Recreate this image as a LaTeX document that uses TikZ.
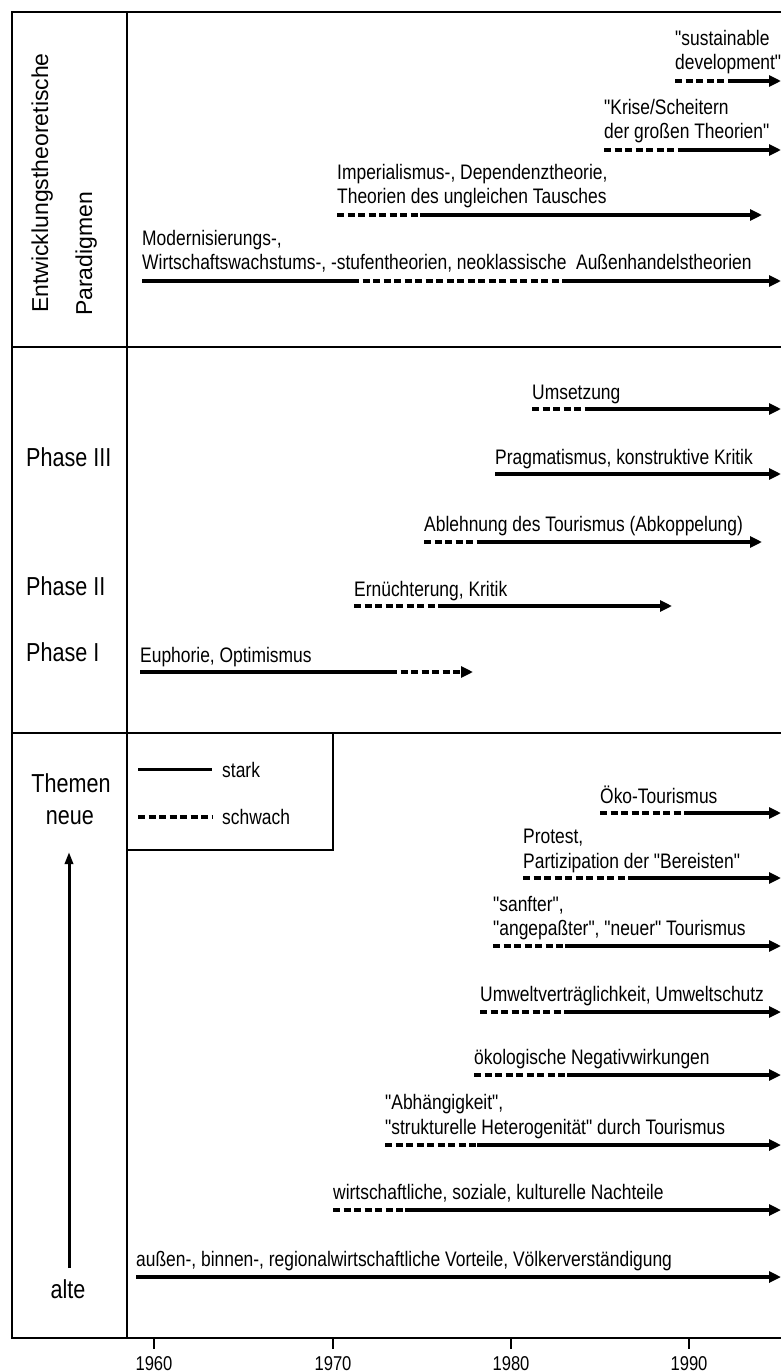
\documentclass[tikz,border=0pt]{standalone}
\usepackage{fontspec}
\setmainfont{Liberation Sans}
\newfontfamily\narrowfont[FakeStretch=0.83]{Liberation Sans}
\newfontfamily\plainfont{Liberation Sans}
\usetikzlibrary{arrows.meta}
\tikzset{
  frame/.style={line width=2.5pt, line join=miter},
  strongseg/.style={line width=4.5pt},
  weakseg/.style={line width=4.2pt, dash pattern=on 7pt off 3.5pt},
  headed/.style={-{Triangle[length=12pt,width=11pt]}},
  lbl/.style={font=\narrowfont\fontsize{21}{24.5}\selectfont, inner sep=0pt, anchor=base west, align=left},
  biglbl/.style={font=\narrowfont\fontsize{26}{30}\selectfont, inner sep=0pt, anchor=base},
  vertlbl/.style={font=\plainfont\fontsize{23}{28}\selectfont, inner sep=0pt, anchor=base west, rotate=90},
  yearlbl/.style={font=\narrowfont\fontsize{20}{23}\selectfont, inner sep=0pt, anchor=base},
}
\begin{document}
\begin{tikzpicture}[x=1pt,y=-1pt]
\useasboundingbox (0,0) rectangle (781,1372);
\fill[white] (0,0) rectangle (781,1372);

% frame and sections
\draw[frame] (781,12) -- (12,12) -- (12,1338) -- (781,1338);
\draw[frame] (127,12) -- (127,1338);
\draw[frame] (12,347) -- (781,347);
\draw[frame] (12,733) -- (781,733);

% axis ticks and years
\foreach \xx/\yy in {154/1960,333/1970,511/1980,689/1990}{
  \draw[line width=2pt] (\xx,1338) -- (\xx,1349);
  \node[yearlbl] (y\yy) at (\xx,1370) {\yy};
}

% left column labels
\node[vertlbl] (ent) at (48,313) {Entwicklungstheoretische};
\node[vertlbl] (par) at (92,316) {Paradigmen};
\node[biglbl, anchor=base west] (ph3) at (26,466) {Phase III};
\node[biglbl, anchor=base west] (ph2) at (26,595) {Phase II};
\node[biglbl, anchor=base west] (ph1) at (26,661) {Phase I};
\node[biglbl] (them) at (71,792) {Themen};
\node[biglbl] (neue) at (70,824) {neue};
\node[biglbl] (alte) at (68,1298) {alte};
\coordinate (upS) at (69,1268);
\coordinate (upE) at (69,852);
\draw[line width=3pt, -{Triangle[length=12pt,width=8pt]}] (upS) -- (upE);

% legend
\draw[frame] (127,850) -- (333,850) -- (333,733);
\draw[line width=3pt] (138,769) -- (212,769);
\draw[line width=3.5pt, dash pattern=on 7pt off 3.5pt] (138,817) -- (212,817);
\node[lbl] (lgs) at (222,777) {stark};
\node[lbl] (lgw) at (222,824) {schwach};

% ---------- Paradigmen ----------
\node[lbl] (sd) at (675,70) {"sustainable\\development"};
\draw[weakseg] (675,81) -- (728,81);
\draw[strongseg, headed] (728,81) -- (781,81);

\node[lbl] (kr) at (604,139) {"Krise/Scheitern\\der großen Theorien"};
\draw[weakseg] (604,150) -- (683,150);
\draw[strongseg, headed] (683,150) -- (781,150);

\node[lbl] (imp) at (337,204) {Imperialismus-, Dependenztheorie,\\Theorien des ungleichen Tausches};
\draw[weakseg] (337,215) -- (420,215);
\draw[strongseg, headed] (420,215) -- (762,215);

\node[lbl] (mod) at (142,269.5) {Modernisierungs-,\\Wirtschaftswachstums-, -stufentheorien, neoklassische~ Außenhandelstheorien};
\draw[strongseg] (142,281) -- (352,281);
\draw[weakseg] (352,281) -- (567,281);
\draw[strongseg, headed] (567,281) -- (781,281);

% ---------- Phasen ----------
\node[lbl] (ums) at (532,399) {Umsetzung};
\draw[weakseg] (532,409) -- (588,409);
\draw[strongseg, headed] (588,409) -- (781,409);

\node[lbl] (prag) at (495,464) {Pragmatismus, konstruktive Kritik};
\draw[strongseg, headed] (495,474) -- (781,474);

\node[lbl] (abl) at (424,531) {Ablehnung des Tourismus (Abkoppelung)};
\draw[weakseg] (424,542) -- (482,542);
\draw[strongseg, headed] (482,542) -- (762,542);

\node[lbl] (ern) at (354,596) {Ernüchterung, Kritik};
\draw[weakseg] (354,606) -- (440,606);
\draw[strongseg, headed] (440,606) -- (672,606);

\node[lbl] (eup) at (140,662) {Euphorie, Optimismus};
\draw[strongseg] (140,672) -- (390,672);
\draw[weakseg, headed] (390,672) -- (473,672);

% ---------- Themen ----------
\node[lbl] (oeko) at (600,803) {Öko-Tourismus};
\draw[weakseg] (600,813) -- (685,813);
\draw[strongseg, headed] (685,813) -- (781,813);

\node[lbl] (prot) at (523,868) {Protest,\\Partizipation der "Bereisten"};
\draw[weakseg] (523,878) -- (630,878);
\draw[strongseg, headed] (630,878) -- (781,878);

\node[lbl] (sanft) at (493,935.5) {"sanfter",\\"angepaßter", "neuer" Tourismus};
\draw[weakseg] (493,946) -- (565,946);
\draw[strongseg, headed] (565,946) -- (781,946);

\node[lbl] (umw) at (480,1001) {Umweltverträglichkeit, Umweltschutz};
\draw[weakseg] (480,1012) -- (565,1012);
\draw[strongseg, headed] (565,1012) -- (781,1012);

\node[lbl] (oekol) at (474,1064) {ökologische Negativwirkungen};
\draw[weakseg] (474,1075) -- (567,1075);
\draw[strongseg, headed] (567,1075) -- (781,1075);

\node[lbl] (abh) at (385,1134) {"Abhängigkeit",\\"strukturelle Heterogenität" durch Tourismus};
\draw[weakseg] (385,1145) -- (477,1145);
\draw[strongseg, headed] (477,1145) -- (781,1145);

\node[lbl] (wirt) at (333,1199) {wirtschaftliche, soziale, kulturelle Nachteile};
\draw[weakseg] (333,1210) -- (405,1210);
\draw[strongseg, headed] (405,1210) -- (781,1210);

\node[lbl] (aus) at (136,1266) {außen-, binnen-, regionalwirtschaftliche Vorteile, Völkerverständigung};
\draw[strongseg, headed] (136,1277) -- (781,1277);
\end{tikzpicture}
\end{document}
